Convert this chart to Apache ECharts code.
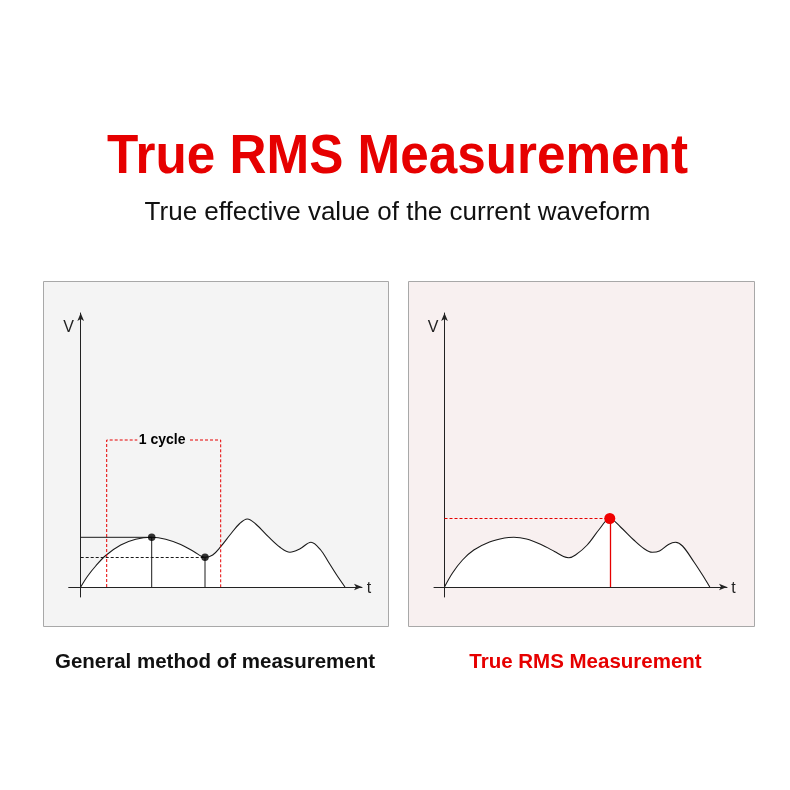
<!DOCTYPE html>
<html><head><meta charset="utf-8">
<script src="https://cdn.jsdelivr.net/npm/echarts@6/dist/echarts.min.js"></script>
<style>html,body{margin:0;padding:0;background:#fff}#c{width:790px;height:790px}</style>
</head><body><div id="c"></div>
<script>
// ---- data (time / voltage in arbitrary units) ----
const leftWave = [[0,0],[7,11],[15,21],[25,31.5],[40,42],[55,47.8],[71,49.7],[85,47.8],[100,42.5],[113,35.5],[124.3,29.7],[132,32],[140,40.3],[150,53],[159,63.5],[166.6,68],[175,63],[187.6,50.3],[199,40],[209.3,34.7],[219,38],[230.3,44.7],[240,37],[247.6,25.3],[256,12],[264.3,0]];
const rightWave = [[0,0],[8,14],[18,27],[29.3,37],[45,45],[60,49],[69.3,49.7],[82,48],[96,42.7],[110,35.5],[119,30.5],[124.3,29.3],[131,32],[142.7,42],[155,58],[165.3,68.5],[176,60],[189.3,47],[200,38],[207.7,34.7],[215,36],[224,42.5],[231,44.7],[238,41],[249.3,25.3],[258,12],[265.3,0]];
const leftPeak = [71, 49.7];
const leftDip = [124.3, 29.7];
const cycleStart = 26, cycleEnd = 140, cycleTop = 147;
const cycleGap = [56.6, 109.3];
const cycleLabel = '1 cycle';
const rmsPoint = [165.3, 68.5];
const axisNames = ['V', 't'];
const titleText = 'True RMS Measurement';
const subtitleText = 'True effective value of the current waveform';
const captions = ['General method of measurement', 'True RMS Measurement'];

// ---- layout ----
const RED = '#e60000';
const panels = [
  {ox: 80.7, oy: 587, xmin: -12, xmax: 281.3, ymin: -10, ymax: 274},
  {ox: 444.5, oy: 587, xmin: -10.5, xmax: 282.5, ymin: -10, ymax: 274}
];
const grids = panels.map(p => ({
  left: p.ox + p.xmin, width: p.xmax - p.xmin,
  top: p.oy - p.ymax, height: p.ymax - p.ymin
}));
const axisLine = {onZero: true, symbol: ['none','arrow'], symbolSize: [5, 8], lineStyle: {color: '#222', width: 1}};
const xAxes = panels.map((p,i) => ({type:'value', gridIndex:i, min:p.xmin, max:p.xmax, axisLine, axisTick:{show:false}, axisLabel:{show:false}, splitLine:{show:false}}));
const yAxes = panels.map((p,i) => ({type:'value', gridIndex:i, min:p.ymin, max:p.ymax, axisLine, axisTick:{show:false}, axisLabel:{show:false}, splitLine:{show:false}}));

const waveStyle = {color:'#1a1a1a', width:1.1};
const series = [
  {type:'line', xAxisIndex:0, yAxisIndex:0, data:leftWave, smooth:0.35, symbol:'none', lineStyle:waveStyle, areaStyle:{color:'#ffffff', opacity:1}, z:2, silent:true},
  {type:'lines', coordinateSystem:'cartesian2d', xAxisIndex:0, yAxisIndex:0, polyline:true, z:3,
    lineStyle:{color:RED, width:1, type:[3,2], opacity:1},
    data:[{coords:[[cycleStart,0],[cycleStart,cycleTop],[cycleGap[0],cycleTop]]},{coords:[[cycleGap[1],cycleTop],[cycleEnd,cycleTop],[cycleEnd,0]]}]},
  {type:'lines', coordinateSystem:'cartesian2d', xAxisIndex:0, yAxisIndex:0, polyline:true, z:3,
    lineStyle:{color:'#1a1a1a', width:1, opacity:1},
    data:[{coords:[[0,leftPeak[1]],[leftPeak[0],leftPeak[1]],[leftPeak[0],0]]},{coords:[[leftDip[0],leftDip[1]],[leftDip[0],0]]}]},
  {type:'lines', coordinateSystem:'cartesian2d', xAxisIndex:0, yAxisIndex:0, z:3,
    lineStyle:{color:'#1a1a1a', width:1, type:[3,2], opacity:1},
    data:[{coords:[[0,leftDip[1]],[leftDip[0],leftDip[1]]]}]},
  {type:'scatter', xAxisIndex:0, yAxisIndex:0, data:[leftPeak, leftDip], symbolSize:7.5, itemStyle:{color:'#000'}, z:4},
  {type:'scatter', xAxisIndex:0, yAxisIndex:0, data:[[(cycleGap[0]+cycleGap[1])/2 - 1.5, cycleTop]], symbolSize:0, z:4, itemStyle:{opacity:0},
    label:{show:true, position:'inside', formatter:cycleLabel, color:'#000', opacity:1, textBorderWidth:0, fontSize:14, fontWeight:'bold', fontFamily:'Liberation Sans, Arial, sans-serif'}},

  {type:'line', xAxisIndex:1, yAxisIndex:1, data:rightWave, smooth:0.35, symbol:'none', lineStyle:waveStyle, areaStyle:{color:'#ffffff', opacity:1}, z:2, silent:true},
  {type:'lines', coordinateSystem:'cartesian2d', xAxisIndex:1, yAxisIndex:1, z:3,
    lineStyle:{color:RED, width:1, type:[3,2], opacity:1},
    data:[{coords:[[0,rmsPoint[1]],rmsPoint]}]},
  {type:'lines', coordinateSystem:'cartesian2d', xAxisIndex:1, yAxisIndex:1, z:3,
    lineStyle:{color:RED, width:1.3, opacity:1},
    data:[{coords:[[rmsPoint[0],0],rmsPoint]}]},
  {type:'scatter', xAxisIndex:1, yAxisIndex:1, data:[rmsPoint], symbolSize:11, itemStyle:{color:'#f00000', opacity:1}, z:4}
];

const FF = 'Liberation Sans, Arial, sans-serif';
const graphic = [
  {type:'rect', z:-100, shape:{x:43.5, y:281.5, width:345, height:345}, style:{fill:'#f4f4f4', stroke:'#a8a8a8', lineWidth:1}},
  {type:'rect', z:-100, shape:{x:408.5, y:281.5, width:346, height:345}, style:{fill:'#f8f0f0', stroke:'#a8a8a8', lineWidth:1}},
  {type:'text', x:397.5, y:158, scaleX:0.915, style:{text:titleText, fill:RED, fontSize:56, fontWeight:'bold', fontFamily:FF, textAlign:'center', textVerticalAlign:'middle'}},
  {type:'text', x:397.5, y:212.5, style:{text:subtitleText, fill:'#111', fontSize:26, fontFamily:FF, textAlign:'center', textVerticalAlign:'middle'}},
  {type:'text', x:215, y:662, style:{text:captions[0], fill:'#111', fontSize:20.5, fontWeight:'bold', fontFamily:FF, textAlign:'center', textVerticalAlign:'middle'}},
  {type:'text', x:585.5, y:662, style:{text:captions[1], fill:RED, fontSize:20.5, fontWeight:'bold', fontFamily:FF, textAlign:'center', textVerticalAlign:'middle'}},
  {type:'text', x:68.5, y:328, style:{text:axisNames[0], fill:'#222', fontSize:16, fontFamily:FF, textAlign:'center', textVerticalAlign:'middle'}},
  {type:'text', x:369, y:588.5, style:{text:axisNames[1], fill:'#222', fontSize:16, fontFamily:FF, textAlign:'center', textVerticalAlign:'middle'}},
  {type:'text', x:433, y:328, style:{text:axisNames[0], fill:'#222', fontSize:16, fontFamily:FF, textAlign:'center', textVerticalAlign:'middle'}},
  {type:'text', x:733.5, y:588.5, style:{text:axisNames[1], fill:'#222', fontSize:16, fontFamily:FF, textAlign:'center', textVerticalAlign:'middle'}}
];

const chart = echarts.init(document.getElementById('c'), null, {renderer:'canvas'});
chart.setOption({
  animation:false,
  backgroundColor:'#ffffff',
  grid:grids, xAxis:xAxes, yAxis:yAxes, series, graphic
});
</script></body></html>
